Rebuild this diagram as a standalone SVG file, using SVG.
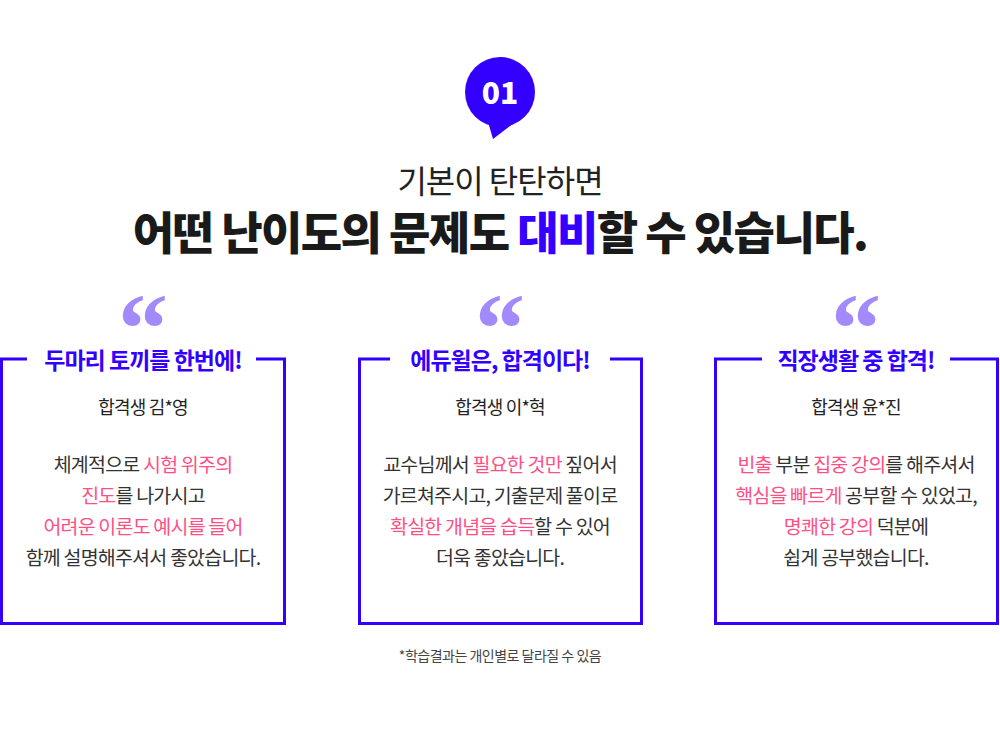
<svg xmlns="http://www.w3.org/2000/svg" width="1000" height="753" viewBox="0 0 1000 753">
<style>
text{font-family:"Noto Sans CJK KR","Noto Sans",sans-serif;text-anchor:middle}
.box{fill:none;stroke:#3300ff;stroke-width:3}
.ttl{font-size:23px;font-weight:700;fill:#3300ff;letter-spacing:-1px}
.au{font-size:18px;fill:#222;letter-spacing:-0.8px}
.bd{font-size:19.5px;fill:#333;letter-spacing:-0.8px}
.pk{fill:#ff4f86}
.q{font-family:"Liberation Serif",serif;font-size:100px;font-weight:700;fill:#a38afc}
</style>
<rect width="1000" height="753" fill="#fff"/>
<g id="badge">
<circle cx="500" cy="92" r="35" fill="#3300ff"/>
<path d="M488 122 L493 139 L514 123 Z" fill="#3300ff"/>
<text x="500" y="104" font-size="30" font-weight="900" fill="#fff" font-family="Roboto,sans-serif">01</text>
</g>
<g id="headline">
<text x="500" y="193" font-size="32" fill="#222" letter-spacing="-1">기본이 탄탄하면</text>
<text x="500" y="250" font-size="45" font-weight="900" fill="#1a1a1a" letter-spacing="-1.6">어떤 난이도의 문제도 <tspan fill="#3300ff">대비</tspan>할 수 있습니다.</text>
</g>
<g id="card1">
<text class="q" x="143" y="362">“</text>
<path class="box" d="M27 359 H1.5 V623.5 H284.5 V359 H256"/>
<text class="ttl" x="143" y="369">두마리 토끼를 한번에!</text>
<text class="au" x="143" y="414">합격생 김*영</text>
<text class="bd" x="143" y="472">체계적으로 <tspan class="pk">시험 위주의</tspan></text>
<text class="bd" x="143" y="503"><tspan class="pk">진도</tspan>를 나가시고</text>
<text class="bd" x="143" y="534"><tspan class="pk">어려운 이론도 예시를 들어</tspan></text>
<text class="bd" x="143" y="565">함께 설명해주셔서 좋았습니다.</text>
</g>
<g id="card2">
<text class="q" x="500" y="362">“</text>
<path class="box" d="M390 359 H359.5 V623.5 H641.5 V359 H610"/>
<text class="ttl" x="500" y="369">에듀윌은, 합격이다!</text>
<text class="au" x="500" y="414">합격생 이*혁</text>
<text class="bd" x="500" y="472">교수님께서 <tspan class="pk">필요한 것만</tspan> 짚어서</text>
<text class="bd" x="500" y="503">가르쳐주시고, 기출문제 풀이로</text>
<text class="bd" x="500" y="534"><tspan class="pk">확실한 개념을 습득</tspan>할 수 있어</text>
<text class="bd" x="500" y="565">더욱 좋았습니다.</text>
</g>
<g id="card3">
<text class="q" x="856" y="362">“</text>
<path class="box" d="M762 359 H715.5 V623.5 H997.5 V359 H950"/>
<text class="ttl" x="856" y="369">직장생활 중 합격!</text>
<text class="au" x="856" y="414">합격생 윤*진</text>
<text class="bd" x="856" y="472"><tspan class="pk">빈출</tspan> 부분 <tspan class="pk">집중 강의</tspan>를 해주셔서</text>
<text class="bd" x="856" y="503"><tspan class="pk">핵심을 빠르게</tspan> 공부할 수 있었고,</text>
<text class="bd" x="856" y="534"><tspan class="pk">명쾌한 강의</tspan> 덕분에</text>
<text class="bd" x="856" y="565">쉽게 공부했습니다.</text>
</g>
<text x="500" y="661" font-size="14" fill="#444" letter-spacing="-0.5">*학습결과는 개인별로 달라질 수 있음</text>
</svg>
